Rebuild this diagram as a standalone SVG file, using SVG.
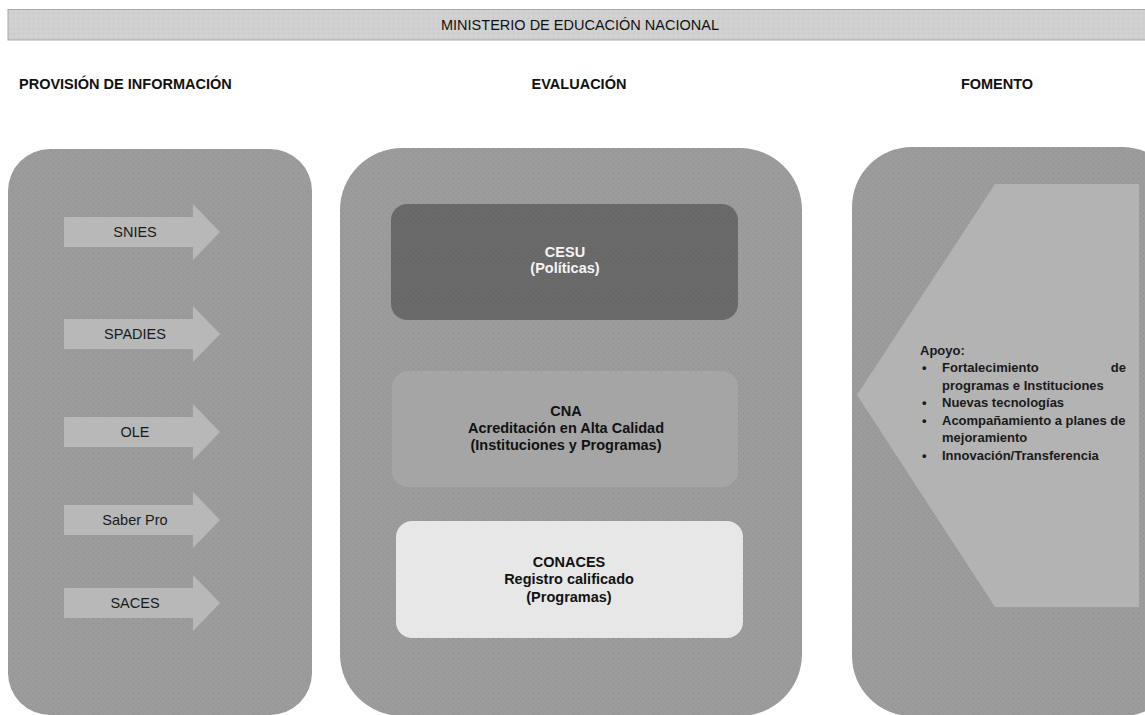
<svg xmlns="http://www.w3.org/2000/svg" width="1145" height="715" viewBox="0 0 1145 715">
<defs>
<pattern id="dots" width="5" height="5" patternUnits="userSpaceOnUse">
<rect width="5" height="5" fill="#9c9c9c"/>
<circle cx="1" cy="1" r="0.6" fill="#8c8c8c"/>
<circle cx="3.5" cy="3.5" r="0.6" fill="#8c8c8c"/>
</pattern>
<pattern id="dotsDark" width="5" height="5" patternUnits="userSpaceOnUse">
<rect width="5" height="5" fill="#6a6a6a"/>
<circle cx="1" cy="1" r="0.6" fill="#5e5e5e"/>
<circle cx="3.5" cy="3.5" r="0.6" fill="#5e5e5e"/>
</pattern>
<pattern id="dotsHead" width="5" height="5" patternUnits="userSpaceOnUse">
<rect width="5" height="5" fill="#d0d0d0"/>
<circle cx="1" cy="1" r="0.6" fill="#dedede"/>
<circle cx="3.5" cy="3.5" r="0.6" fill="#c4c4c4"/>
</pattern>
</defs>
<style>
text{font-family:"Liberation Sans",Arial,sans-serif;fill:#111;}
.h{font-size:14.5px;font-weight:bold;}
.t{font-size:14.5px;}
.lab{font-size:14.5px;text-anchor:middle;fill:#1a1a1a;}
.c{font-size:14.5px;font-weight:bold;text-anchor:middle;}
.cw{font-size:14.5px;font-weight:bold;text-anchor:middle;fill:#f4f4f4;}
.r{font-size:13px;font-weight:bold;fill:#1a1a1a;}
.panel{fill:url(#dots);}
.arrow{fill:#b8b8b8;}
</style>
<rect width="1145" height="715" fill="#ffffff"/>

<g id="header">
<rect x="8" y="9.5" width="1145" height="30.5" fill="url(#dotsHead)" stroke="#a8a8a8" stroke-width="1"/>
<text class="t" x="580" y="29.5" text-anchor="middle">MINISTERIO DE EDUCACIÓN NACIONAL</text>
</g>

<g id="headings">
<text class="h" x="19" y="89">PROVISIÓN DE INFORMACIÓN</text>
<text class="h" x="579" y="89" text-anchor="middle">EVALUACIÓN</text>
<text class="h" x="997" y="89" text-anchor="middle">FOMENTO</text>
</g>

<g id="panel-provision">
<rect class="panel" x="8" y="149" width="304" height="566" rx="42" ry="42"/>
</g>
<g id="panel-evaluacion">
<rect class="panel" x="340" y="148" width="462" height="568" rx="62" ry="62"/>
</g>
<g id="panel-fomento">
<rect class="panel" x="852" y="147" width="330" height="569" rx="60" ry="60"/>
</g>

<g id="connectors">
<g id="arrow-snies">
<path class="arrow" d="M64,217 H193 V204 L220,232 L193,260 V247 H64 Z"/>
<text class="lab" x="135" y="237">SNIES</text>
</g>
<g id="arrow-spadies">
<path class="arrow" d="M64,319 H193 V306 L220,334 L193,362 V349 H64 Z"/>
<text class="lab" x="135" y="339">SPADIES</text>
</g>
<g id="arrow-ole">
<path class="arrow" d="M64,417 H193 V404 L220,432 L193,460 V447 H64 Z"/>
<text class="lab" x="135" y="437">OLE</text>
</g>
<g id="arrow-saberpro">
<path class="arrow" d="M64,505 H193 V492 L220,520 L193,548 V535 H64 Z"/>
<text class="lab" x="135" y="525">Saber Pro</text>
</g>
<g id="arrow-saces">
<path class="arrow" d="M64,588 H193 V575 L220,603 L193,631 V618 H64 Z"/>
<text class="lab" x="135" y="608">SACES</text>
</g>
</g>

<g id="cesu">
<rect x="391" y="204" width="347" height="116" rx="16" ry="16" fill="url(#dotsDark)"/>
<text class="cw" x="565" y="257">CESU</text>
<text class="cw" x="565" y="273">(Políticas)</text>
</g>
<g id="cna">
<rect x="392" y="371" width="346" height="116" rx="16" ry="16" fill="#a5a5a5"/>
<text class="c" x="566" y="416">CNA</text>
<text class="c" x="566" y="433">Acreditación en Alta Calidad</text>
<text class="c" x="566" y="450">(Instituciones y Programas)</text>
</g>
<g id="conaces">
<rect x="396" y="521" width="347" height="117" rx="16" ry="16" fill="#e7e7e7"/>
<text class="c" x="569" y="567">CONACES</text>
<text class="c" x="569" y="584">Registro calificado</text>
<text class="c" x="569" y="602">(Programas)</text>
</g>

<g id="apoyo">
<polygon points="857,395 995,184 1139,184 1139,607 995,607" fill="#b3b3b3"/>
<text class="r" x="920" y="355">Apoyo:</text>
<text class="r" x="922" y="372">•</text>
<text class="r" x="942" y="372">Fortalecimiento</text>
<text class="r" x="1126" y="372" text-anchor="end">de</text>
<text class="r" x="942" y="390">programas e Instituciones</text>
<text class="r" x="922" y="407">•</text>
<text class="r" x="942" y="407">Nuevas tecnologías</text>
<text class="r" x="922" y="425">•</text>
<text class="r" x="942" y="425">Acompañamiento a planes de</text>
<text class="r" x="942" y="442">mejoramiento</text>
<text class="r" x="922" y="460">•</text>
<text class="r" x="942" y="460">Innovación/Transferencia</text>
</g>
</svg>
